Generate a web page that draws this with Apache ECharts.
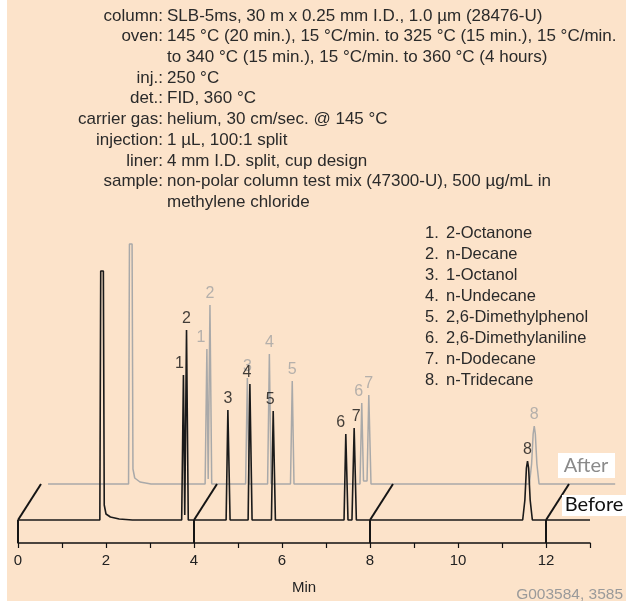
<!DOCTYPE html>
<html>
<head>
    <meta charset="utf-8">
    <script src="https://cdn.jsdelivr.net/npm/echarts@6/dist/echarts.min.js"></script>
    <style>
        body { margin: 0; background: #fff; }
    </style>
</head>
<body>
    <div id="main" style="width:626px; height:603px;"></div>
</body>
<script type="text/javascript">
    // run conditions (header block)
    const condLabels = ['column:', 'oven:', '', 'inj.:', 'det.:', 'carrier gas:', 'injection:', 'liner:', 'sample:', ''];
    const condValues = [
        'SLB-5ms, 30 m x 0.25 mm I.D., 1.0 µm (28476-U)',
        '145 °C (20 min.), 15 °C/min. to 325 °C (15 min.), 15 °C/min.',
        'to 340 °C (15 min.), 15 °C/min. to 360 °C (4 hours)',
        '250 °C',
        'FID, 360 °C',
        'helium, 30 cm/sec. @ 145 °C',
        '1 µL, 100:1 split',
        '4 mm I.D. split, cup design',
        'non-polar column test mix (47300-U), 500 µg/mL in',
        'methylene chloride'
    ];

    // peak identification
    const compounds = ['2-Octanone', 'n-Decane', '1-Octanol', 'n-Undecane',
        '2,6-Dimethylphenol', '2,6-Dimethylaniline', 'n-Dodecane', 'n-Tridecane'];

    // x axis (minutes)
    const xTicks = [0, 2, 4, 6, 8, 10, 12];
    const frameMarks = [0, 4, 8, 12];

    // "Before" trace: [min, signal]
    const beforeTrace = [
        [0, 0], [1.86, 0], [1.88, 249], [1.94, 249], [1.96, 15], [2.0, 6], [2.1, 3], [2.3, 1], [2.6, 0],
        [3.72, 0], [3.76, 145], [3.79, 5], [3.83, 190], [3.87, 0],
        [4.73, 0], [4.77, 110], [4.82, 0],
        [5.23, 0], [5.27, 136], [5.32, 0],
        [5.76, 0], [5.80, 109], [5.85, 0],
        [7.41, 0], [7.45, 86], [7.50, 0], [7.59, 0], [7.64, 92], [7.69, 0],
        [11.47, 0], [11.52, 20], [11.555, 52], [11.58, 59], [11.605, 52], [11.64, 20], [11.69, 0],
        [13, 0]
    ];
    // "After" trace: [min, signal]
    const afterTrace = [
        [0.16, 0], [1.99, 0], [2.01, 240], [2.07, 240], [2.09, 15], [2.13, 6], [2.25, 2], [2.5, 0],
        [3.73, 0], [3.77, 135], [3.80, 5], [3.84, 179], [3.88, 0],
        [4.65, 0], [4.69, 106], [4.73, 0],
        [5.15, 0], [5.19, 130], [5.23, 0],
        [5.67, 0], [5.71, 103], [5.75, 0],
        [7.25, 0], [7.29, 81], [7.33, 3], [7.41, 3], [7.45, 89], [7.50, 0],
        [11.10, 0], [11.15, 20], [11.185, 50], [11.21, 58], [11.235, 50], [11.27, 20], [11.32, 0],
        [13.05, 0]
    ];

    // numbered peaks: [min, apex, number]
    const beforePeaks = [[3.76, 145, '1'], [3.83, 190, '2'], [4.77, 110, '3'], [5.27, 136, '4'],
        [5.80, 109, '5'], [7.45, 86, '6'], [7.64, 92, '7'], [11.58, 59, '8']];
    const afterPeaks = [[3.77, 135, '1'], [3.84, 179, '2'], [4.69, 106, '3'], [5.19, 130, '4'],
        [5.71, 103, '5'], [7.29, 81, '6'], [7.45, 89, '7'], [11.21, 58, '8']];

    // label nudges (px), style only
    const beforeNudge = { '1': -4, '4': -3, '5': -3, '6': -5, '7': 2 };
    const afterNudge = { '1': -6, '6': -3 };

    // layout
    const X0 = 18, PX_PER_MIN = 44;
    const DX = 23, DY = 36;        // offset of the "After" plane
    const Y_MIN = -23, Y_MAX = 270;
    const TXT = '"Liberation Sans", Arial, sans-serif';

    const myChart = echarts.init(document.getElementById('main'));

    const graphics = [
        { type: 'rect', z: -10, shape: { x: 7, y: 0, width: 619, height: 601 }, style: { fill: '#fce3ca' } }
    ];
    condLabels.forEach((lab, i) => {
        const y = 16 + i * 20.7;
        if (lab) {
            graphics.push({ type: 'text', style: { text: lab, x: 163, y: y, textAlign: 'right', textVerticalAlign: 'middle', font: '17px ' + TXT, fill: '#2a2a2a' } });
        }
        graphics.push({ type: 'text', style: { text: condValues[i], x: 167, y: y, textAlign: 'left', textVerticalAlign: 'middle', font: '17px ' + TXT, fill: '#2a2a2a' } });
    });
    compounds.forEach((name, i) => {
        const y = 233 + i * 21.1;
        graphics.push({ type: 'text', style: { text: (i + 1) + '.', x: 425, y: y, textAlign: 'left', textVerticalAlign: 'middle', font: '16.5px ' + TXT, fill: '#2a2a2a' } });
        graphics.push({ type: 'text', style: { text: name, x: 446, y: y, textAlign: 'left', textVerticalAlign: 'middle', font: '16.5px ' + TXT, fill: '#2a2a2a' } });
    });
    graphics.push(
        { type: 'rect', z: 10, shape: { x: 558, y: 453, width: 57, height: 25 }, style: { fill: '#fff' } },
        { type: 'text', z: 11, style: { text: 'After', x: 586, y: 466, textAlign: 'center', textVerticalAlign: 'middle', font: '20px Lato, sans-serif', fill: '#8a8a8a' } },
        { type: 'rect', z: 10, shape: { x: 562, y: 495, width: 64, height: 21 }, style: { fill: '#fff' } },
        { type: 'text', z: 11, style: { text: 'Before', x: 594, y: 505, textAlign: 'center', textVerticalAlign: 'middle', font: '20px Lato, sans-serif', fill: '#111' } },
        { type: 'text', style: { text: 'G003584, 3585', x: 623, y: 595, textAlign: 'right', textVerticalAlign: 'middle', font: '15.5px ' + TXT, fill: '#9a9a9a' } }
    );

    function peakLabels(peaks, nudge) {
        return peaks.map(p => ({
            value: [p[0], p[1]],
            label: { formatter: p[2], offset: [nudge[p[2]] || 0, 0] }
        }));
    }

    const option = {
        backgroundColor: 'transparent',
        animation: false,
        graphic: graphics,
        grid: [
            { left: X0, top: 250, width: PX_PER_MIN * 13, height: 293, outerBoundsMode: 'none' },
            { left: X0 + DX, top: 250 - DY, width: PX_PER_MIN * 13.1, height: 293, outerBoundsMode: 'none' }
        ],
        xAxis: [
            {
                gridIndex: 0, type: 'value', min: 0, max: 13, interval: 1,
                name: 'Min', nameLocation: 'middle', nameGap: 37,
                nameTextStyle: { fontSize: 15, color: '#222', fontFamily: TXT },
                axisLine: { onZero: false, lineStyle: { color: '#111', width: 1.5 } },
                axisTick: { length: 5, lineStyle: { color: '#111', width: 1.2 } },
                axisLabel: {
                    margin: 10, fontSize: 15, color: '#222', fontFamily: TXT,
                    formatter: v => xTicks.indexOf(v) >= 0 ? String(v) : ''
                },
                splitLine: { show: false }
            },
            { gridIndex: 1, type: 'value', min: 0, max: 13.1, show: false, splitLine: { show: false } }
        ],
        yAxis: [
            { gridIndex: 0, type: 'value', min: Y_MIN, max: Y_MAX, show: false, splitLine: { show: false } },
            { gridIndex: 1, type: 'value', min: Y_MIN, max: Y_MAX, show: false, splitLine: { show: false } }
        ],
        series: [
            {
                type: 'line', name: 'After', xAxisIndex: 1, yAxisIndex: 1, z: 1,
                data: afterTrace, showSymbol: false, clip: false,
                lineStyle: { color: '#a9a9a9', width: 1.5 }
            },
            {
                type: 'custom', name: 'frame', xAxisIndex: 0, yAxisIndex: 0, z: 3,
                data: frameMarks.map(v => [v]),
                renderItem: function (params, api) {
                    const v = api.value(0);
                    const p0 = api.coord([v, 0]);
                    const p1 = api.coord([v, Y_MIN]);
                    const st = { stroke: '#151515', lineWidth: 2 };
                    return {
                        type: 'group', children: [
                            { type: 'line', shape: { x1: p0[0], y1: p0[1], x2: p1[0], y2: p1[1] }, style: st },
                            { type: 'line', shape: { x1: p0[0], y1: p0[1], x2: p0[0] + DX, y2: p0[1] - DY }, style: st }
                        ]
                    };
                }
            },
            {
                type: 'line', name: 'Before', xAxisIndex: 0, yAxisIndex: 0, z: 4,
                data: beforeTrace, showSymbol: false, clip: false,
                lineStyle: { color: '#1a1a1a', width: 1.6 }
            },
            {
                type: 'scatter', xAxisIndex: 1, yAxisIndex: 1, symbolSize: 0, z: 5,
                data: peakLabels(afterPeaks, afterNudge),
                label: { show: true, position: 'top', distance: 3, fontSize: 16, color: '#a3a3a3', fontFamily: TXT }
            },
            {
                type: 'scatter', xAxisIndex: 0, yAxisIndex: 0, symbolSize: 0, z: 6,
                data: peakLabels(beforePeaks, beforeNudge),
                label: { show: true, position: 'top', distance: 3, fontSize: 16, color: '#111', fontFamily: TXT }
            }
        ]
    };
    option && myChart.setOption(option);
</script>
</html>
